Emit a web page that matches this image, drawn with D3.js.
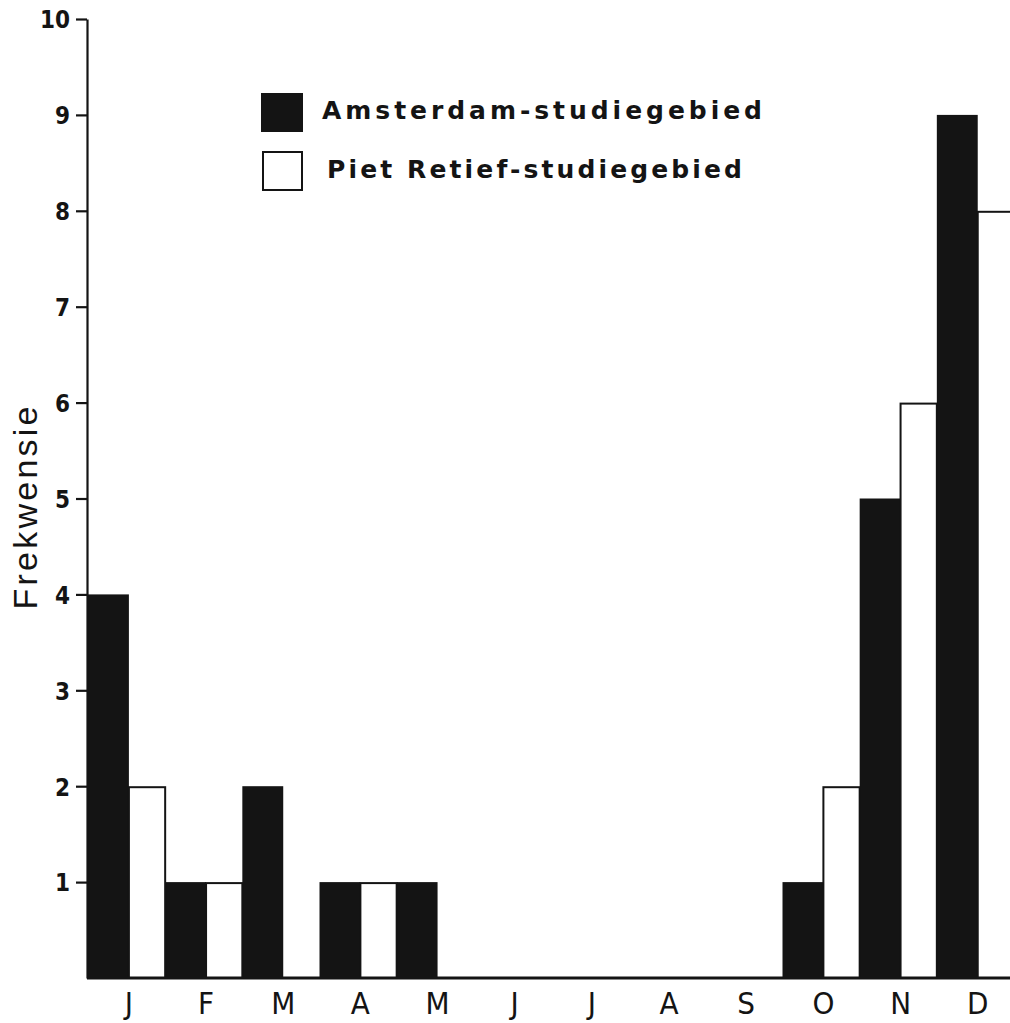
<!DOCTYPE html>
<html>
<head>
<meta charset="utf-8">
<script src="https://cdn.jsdelivr.net/npm/d3@7"></script>
<style>
  html, body { margin: 0; padding: 0; background: #fff; }
  svg { display: block; }
</style>
</head>
<body>
<svg id="chart" width="1010" height="1023"></svg>
<script>
// Monthly frequency for the two study areas
const months = ["J", "F", "M", "A", "M", "J", "J", "A", "S", "O", "N", "D"];
const amsterdam = [4, 1, 2, 1, 1, 0, 0, 0, 0, 1, 5, 9];
const pietRetief = [2, 1, 0, 1, 0, 0, 0, 0, 0, 2, 6, 8];
const seriesNames = ["Amsterdam-studiegebied", "Piet Retief-studiegebied"];
const yTicks = [1, 2, 3, 4, 5, 6, 7, 8, 9, 10];
const yTitle = "Frekwensie";

const svg = d3.select("#chart");
const dark = "#141414";
const split = 0.53; // share of each month's slot taken by the dark bar
const condensed = "'DejaVu Sans Condensed', 'Liberation Sans Narrow', sans-serif";

const x = d3.scaleBand()
  .domain(d3.range(months.length))
  .range([88, 1014])
  .paddingInner(0)
  .paddingOuter(0);

const y = d3.scaleLinear().domain([0, 10]).range([978, 19]);

const bw = x.bandwidth();

// Bars: dark series fills the left part of each slot, white series the right part
const g = svg.append("g");
g.selectAll("rect.ams")
  .data(amsterdam.map((v, i) => ({ v, i })).filter(d => d.v > 0))
  .join("rect")
  .attr("class", "ams")
  .attr("x", d => x(d.i))
  .attr("width", bw * split)
  .attr("y", d => y(d.v))
  .attr("height", d => y(0) - y(d.v))
  .attr("fill", dark);

g.selectAll("rect.pr")
  .data(pietRetief.map((v, i) => ({ v, i })).filter(d => d.v > 0))
  .join("rect")
  .attr("class", "pr")
  .attr("x", d => x(d.i) + bw * split)
  .attr("width", bw * (1 - split))
  .attr("y", d => y(d.v) + 1)
  .attr("height", d => y(0) - y(d.v) - 1)
  .attr("fill", "#fff")
  .attr("stroke", dark)
  .attr("stroke-width", 2);

// Y axis
const yAxis = d3.axisLeft(y)
  .tickValues(yTicks)
  .tickSize(11)
  .tickSizeOuter(0)
  .tickPadding(6)
  .tickFormat(d3.format("d"));

const ya = svg.append("g")
  .attr("transform", "translate(87,0)")
  .call(yAxis);
ya.select(".domain").attr("stroke", dark).attr("stroke-width", 2.2);
ya.selectAll(".tick line").attr("stroke", dark).attr("stroke-width", 2.2);
ya.selectAll(".tick text")
  .attr("fill", dark)
  .attr("font-family", condensed)
  .attr("font-weight", "bold")
  .attr("font-size", 24)
  .attr("dy", "0.37em");

// X baseline
svg.append("line")
  .attr("x1", 87).attr("x2", 1010)
  .attr("y1", y(0)).attr("y2", y(0))
  .attr("stroke", dark)
  .attr("stroke-width", 3);

// Month labels at the split between the two bars
svg.append("g").selectAll("text")
  .data(months)
  .join("text")
  .attr("x", (d, i) => x(i) + bw * split)
  .attr("y", 1014)
  .attr("text-anchor", "middle")
  .attr("font-family", condensed)
  .attr("font-size", 31)
  .attr("fill", dark)
  .text(d => d);

// Y axis title
svg.append("text")
  .attr("transform", "translate(37,508) rotate(-90)")
  .attr("text-anchor", "middle")
  .attr("font-family", "'Liberation Sans', Arial, sans-serif")
  .attr("font-size", 34)
  .attr("fill", dark)
  .attr("textLength", 203)
  .attr("lengthAdjust", "spacing")
  .text(yTitle);

// Legend
const legend = svg.append("g");
const legendRows = [
  { name: seriesNames[0], fill: dark, y: 93, textX: 322, textW: 440, base: 119 },
  { name: seriesNames[1], fill: "#fff", y: 152, textX: 327, textW: 415, base: 178 }
];
legendRows.forEach(r => {
  legend.append("rect")
    .attr("x", r.fill === dark ? 261 : 263)
    .attr("y", r.y)
    .attr("width", r.fill === dark ? 42 : 39)
    .attr("height", r.fill === dark ? 39 : 38)
    .attr("fill", r.fill)
    .attr("stroke", dark)
    .attr("stroke-width", r.fill === dark ? 0 : 2);
  legend.append("text")
    .attr("x", r.textX)
    .attr("y", r.base)
    .attr("font-family", "'DejaVu Sans', sans-serif")
    .attr("font-weight", "bold")
    .attr("font-size", 25)
    .attr("fill", dark)
    .attr("textLength", r.textW)
    .attr("lengthAdjust", "spacing")
    .text(r.name);
});
</script>
</body>
</html>
